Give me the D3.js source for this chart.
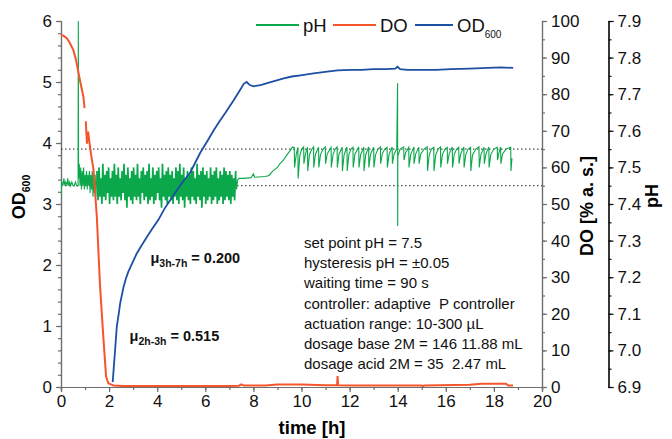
<!DOCTYPE html>
<html><head><meta charset="utf-8">
<script src="https://cdn.jsdelivr.net/npm/d3@7/dist/d3.min.js"></script>
<style>
html,body{margin:0;padding:0;background:#fff;}
svg{display:block;font-family:"Liberation Sans",Arial,sans-serif;}
text{white-space:pre;}
</style></head>
<body><svg id="c" width="672" height="439"></svg>
<script>
// ---------------- DATA ----------------
const xTicks = [0,2,4,6,8,10,12,14,16,18,20];
const odTicks = [0,1,2,3,4,5,6];
const doTicks = [0,10,20,30,40,50,60,70,80,90,100];
const phTicks = [6.9,7.0,7.1,7.2,7.3,7.4,7.5,7.6,7.7,7.8,7.9];
const hysteresis = [7.45, 7.55];

// OD600 [time h, OD]
const odData = [[2.15,0.08],[2.2,0.35],[2.25,0.61],[2.32,0.99],[2.4,1.2],[2.46,1.37],[2.6,1.64],[2.7,1.78],[2.8,1.89],[2.95,2.02],[3.15,2.19],[3.35,2.32],[3.57,2.46],[3.8,2.6],[4.05,2.74],[4.3,2.92],[4.6,3.1],[5.0,3.33],[5.38,3.52],[5.79,3.84],[6.1,4.04],[6.35,4.21],[6.6,4.36],[6.83,4.49],[7.18,4.70],[7.4,4.84],[7.6,4.97],[7.72,5.0],[7.85,4.95],[8.01,4.93],[8.3,4.95],[8.57,4.98],[8.9,5.02],[9.26,5.06],[9.6,5.09],[9.96,5.11],[10.5,5.14],[11.07,5.17],[11.5,5.19],[12.04,5.2],[12.5,5.2],[13.0,5.21],[13.5,5.21],[13.9,5.22],[13.99,5.25],[14.1,5.21],[14.4,5.2],[15.0,5.2],[15.6,5.2],[16.2,5.21],[17.0,5.22],[17.74,5.23],[18.3,5.24],[18.8,5.23]];

// DO [time h, % a.s.]  (null = gap in trace)
const doData = [[0,96.2],[0.1,96.0],[0.24,95.3],[0.35,94.2],[0.51,92.1],[0.62,89.5],[0.72,86.1],[0.82,82.8],[0.93,79.3],[0.98,76.2],[1.0,null],[1.03,72.6],[1.08,66.5],[1.13,69.8],[1.17,67.5],[1.25,63.5],[1.35,59.5],[1.49,46.5],[1.625,27.4],[1.76,13.7],[1.875,2.8],[1.97,1.0],[2.18,0.4],[2.6,0.25],[3.5,0.3],[5,0.3],[7.0,0.3],[7.4,0.35],[7.5,0.7],[7.6,0.4],[8.5,0.4],[9.0,0.7],[10.0,0.7],[11.0,0.5],[11.48,0.5],[11.5,3.0],[11.52,0.5],[12.0,0.4],[15.0,0.4],[15.05,0.1],[15.1,0.4],[17.0,0.6],[17.5,0.9],[18.5,0.9],[18.6,0.4],[18.8,0.4]];

// pH [time h, pH] before the dense control band
const phStart = [[0,7.42],[0.03,7.46],[0.08,7.45],[0.12,7.47],[0.16,7.45],[0.2,7.46],[0.25,7.45],[0.28,7.47],[0.32,7.45],[0.36,7.46],[0.4,7.45],[0.45,7.46],[0.5,7.45],[0.55,7.45],[0.6,7.46],[0.65,7.45],[0.71,7.45],[0.72,7.9],[0.73,7.47],[0.76,7.51],[0.79,7.45],[0.82,7.50],[0.85,7.44],[0.88,7.49],[0.91,7.45],[0.94,7.50],[0.97,7.44],[1.0,7.48],[1.03,7.45],[1.06,7.49],[1.09,7.44],[1.12,7.48],[1.15,7.45],[1.18,7.49],[1.21,7.43],[1.24,7.48],[1.27,7.44],[1.30,7.49],[1.33,7.42],[1.36,7.47],[1.39,7.43],[1.42,7.48],[1.45,7.42],[1.5,7.49]];
// pH dense band, sampled every phDenseStep hours from phDenseT0
const phDenseT0 = 1.5, phDenseStep = 0.04;
const phDense = [7.49,7.41,7.50,7.42,7.47,7.40,7.51,7.42,7.48,7.41,7.49,7.43,7.50,7.40,7.47,7.42,7.49,7.41,7.51,7.42,
7.48,7.40,7.50,7.42,7.47,7.41,7.49,7.43,7.51,7.41,7.48,7.39,7.50,7.42,7.47,7.41,7.49,7.40,7.50,7.42,
7.48,7.41,7.51,7.42,7.47,7.40,7.49,7.43,7.50,7.41,7.48,7.42,7.49,7.40,7.51,7.41,7.47,7.42,7.50,7.40,
7.48,7.41,7.49,7.43,7.50,7.41,7.47,7.39,7.51,7.42,7.48,7.41,7.49,7.40,7.50,7.42,7.48,7.41,7.49,7.40,
7.47,7.42,7.50,7.41,7.49,7.40,7.51,7.42,7.48,7.41,7.50,7.39,7.47,7.42,7.49,7.41,7.48,7.40,7.50,7.42,
7.49,7.41,7.47,7.40,7.51,7.42,7.48,7.41,7.49,7.39,7.50,7.42,7.48,7.40,7.49,7.41,7.47,7.42,7.50,7.40,
7.48,7.41,7.49,7.42,7.50,7.40,7.47,7.41,7.49,7.42,7.48,7.40,7.50,7.41,7.49,7.42,7.48,7.41,7.49,7.40,
7.48,7.42,7.47,7.41,7.49];
// pH after the dense band [time h, pH]
const phEnd = [[7.26,7.49],[7.30,7.44],[7.34,7.465],[7.40,7.47],[7.6,7.47],[7.9,7.472],[8.0,7.482],[8.05,7.473],[8.5,7.475],[8.65,7.478],[8.8,7.49],[9.0,7.50],[9.1,7.51],[9.25,7.52],[9.4,7.535],
[9.55,7.548],[9.62,7.556],
[9.70,7.554],[9.71,7.50],[9.78,7.535],
[9.85,7.555],[9.86,7.47],[9.93,7.532],[10.0,7.548],
[10.09,7.556],[10.10,7.51],[10.17,7.538],
[10.25,7.555],[10.26,7.49],[10.33,7.534],[10.42,7.549],
[10.50,7.556],[10.51,7.50],[10.58,7.536],
[10.71,7.555],[10.72,7.50],[10.79,7.535],[10.9,7.55],
[10.99,7.556],[11.00,7.51],[11.07,7.537],
[11.23,7.555],[11.24,7.50],[11.31,7.535],[11.4,7.55],
[11.48,7.556],[11.49,7.50],[11.56,7.536],
[11.69,7.555],[11.70,7.49],[11.77,7.534],
[11.89,7.556],[11.90,7.49],[11.97,7.535],[12.06,7.55],
[12.14,7.555],[12.15,7.50],[12.22,7.536],
[12.38,7.556],[12.39,7.50],[12.46,7.535],
[12.59,7.555],[12.60,7.49],[12.67,7.534],
[12.79,7.556],[12.80,7.50],[12.87,7.536],
[13.00,7.555],[13.01,7.50],[13.08,7.535],[13.18,7.55],
[13.28,7.556],[13.29,7.51],[13.36,7.537],[13.46,7.55],
[13.56,7.555],[13.57,7.50],[13.64,7.535],
[13.77,7.556],[13.78,7.51],[13.85,7.537],[13.96,7.55],
[13.995,7.73],[14.0,7.34],[14.005,7.53],[14.1,7.55],
[14.25,7.556],[14.26,7.52],[14.33,7.54],
[14.46,7.555],[14.47,7.50],[14.54,7.535],
[14.67,7.556],[14.68,7.51],[14.75,7.537],
[14.88,7.555],[14.89,7.51],[14.96,7.537],[15.1,7.55],
[15.23,7.556],[15.24,7.49],[15.31,7.534],[15.4,7.55],
[15.50,7.555],[15.51,7.49],[15.58,7.534],[15.68,7.55],
[15.78,7.556],[15.79,7.50],[15.86,7.535],[15.96,7.55],
[16.06,7.555],[16.07,7.51],[16.14,7.537],
[16.27,7.556],[16.28,7.50],[16.35,7.535],[16.45,7.55],
[16.54,7.555],[16.55,7.51],[16.62,7.537],
[16.75,7.556],[16.76,7.50],[16.83,7.535],[16.93,7.55],
[17.03,7.555],[17.04,7.49],[17.11,7.534],[17.25,7.55],
[17.38,7.556],[17.39,7.50],[17.46,7.535],
[17.59,7.555],[17.60,7.51],[17.67,7.537],
[17.79,7.556],[17.80,7.50],[17.87,7.535],[18.0,7.55],
[18.14,7.555],[18.15,7.52],[18.21,7.54],
[18.28,7.556],[18.29,7.51],[18.36,7.537],[18.5,7.55],
[18.70,7.555],[18.71,7.49],[18.75,7.525]];

const infoLines = ["set point pH = 7.5","hysteresis pH = \u00b10.05","waiting time = 90 s","controller: adaptive  P controller","actuation range: 10-300 \u00b5L","dosage base 2M = 146 11.88 mL","dosage acid 2M = 35  2.47 mL"];
const muLabels = [{sub:"3h-7h", val:"0.200", t:3.72, od:2.03},{sub:"2h-3h", val:"0.515", t:2.85, od:0.76}];
const legendItems = [{name:"pH", sub:"", key:"ph"},{name:"DO", sub:"", key:"do"},{name:"OD", sub:"600", key:"od"}];

// ---------------- STYLES ----------------
const colors = {ph:"#0aa84a", do:"#f4552b", od:"#1d4fa3"};
const axisGray = "#6e6e6e";

// ---------------- CHART ----------------
const svg = d3.select("#c");
const L=61, R=542, T=21, B=387;
const x = d3.scaleLinear([0,20],[L,R]);
const yOD = d3.scaleLinear([0,6],[B,T]);
const yDO = d3.scaleLinear([0,100],[B,T]);
const yPH = d3.scaleLinear([6.9,7.9],[B,T]);

function styleAxis(g, col){
  g.select(".domain").attr("stroke",col).attr("stroke-width",1.2);
  g.selectAll(".tick line").attr("stroke",col).attr("stroke-width",1.2);
  g.selectAll(".tick text").attr("fill","#111").attr("font-size",17);
}

// minor ticks
const minorOD = d3.range(0,6.001,0.2).map(v=>+v.toFixed(1));
svg.append("g").attr("transform",`translate(${L},0)`).call(d3.axisLeft(yOD).tickValues(minorOD).tickSize(3).tickFormat("")).call(g=>styleAxis(g,axisGray));
svg.append("g").attr("transform",`translate(0,${B})`).call(d3.axisBottom(x).tickValues(d3.range(0,21,1)).tickSize(3).tickFormat("")).call(g=>styleAxis(g,axisGray));
svg.append("g").attr("transform",`translate(${R},0)`).call(d3.axisRight(yDO).tickValues(d3.range(0,101,5)).tickSize(3).tickFormat("")).call(g=>styleAxis(g,axisGray));
svg.append("g").attr("transform",`translate(608.5,0)`).call(d3.axisRight(yPH).tickValues(d3.range(0,21).map(i=>6.9+i*0.05)).tickSize(3).tickFormat("")).call(g=>styleAxis(g,"#111"));

// major axes
svg.append("g").attr("transform",`translate(${L},0)`).call(d3.axisLeft(yOD).tickValues(odTicks).tickSize(5).tickPadding(4).tickFormat(d3.format("d"))).call(g=>styleAxis(g,axisGray));
svg.append("g").attr("transform",`translate(0,${B})`).call(d3.axisBottom(x).tickValues(xTicks).tickSize(5).tickPadding(3).tickFormat(d3.format("d"))).call(g=>styleAxis(g,axisGray));
svg.append("g").attr("transform",`translate(${R},0)`).call(d3.axisRight(yDO).tickValues(doTicks).tickSize(5).tickPadding(4).tickFormat(d3.format("d"))).call(g=>styleAxis(g,axisGray));
svg.append("g").attr("transform",`translate(608.5,0)`).call(d3.axisRight(yPH).tickValues(phTicks).tickSize(5).tickPadding(4).tickFormat(d3.format(".1f"))).call(g=>styleAxis(g,"#111"));

// hysteresis lines
svg.selectAll("line.hyst").data(hysteresis).join("line").attr("class","hyst")
  .attr("x1",L).attr("x2",R).attr("y1",d=>yPH(d)).attr("y2",d=>yPH(d))
  .attr("stroke","#222").attr("stroke-width",1).attr("stroke-dasharray","1.5,2.5");

// series
const phDenseData = phDense.map((v,i)=>[phDenseT0+i*phDenseStep, v]);
svg.append("clipPath").attr("id","clip").append("rect").attr("x",L).attr("y",T-2).attr("width",R-L).attr("height",B-T+2);
const plot = svg.append("g").attr("clip-path","url(#clip)");
const phLine = d3.line().x(d=>x(d[0])).y(d=>yPH(d[1]));

plot.append("path").datum(phStart).attr("fill","none").attr("stroke",colors.ph).attr("stroke-width",1.1).attr("d", phLine);
plot.append("path").datum(phDenseData).attr("fill","none").attr("stroke",colors.ph).attr("stroke-width",1.7).attr("d", phLine);
plot.append("path").datum(phEnd).attr("fill","none").attr("stroke",colors.ph).attr("stroke-width",1.1).attr("d", phLine);
plot.append("path").datum(doData).attr("fill","none").attr("stroke",colors.do).attr("stroke-width",2)
  .attr("d", d3.line().defined(d=>d[1]!==null).x(d=>x(d[0])).y(d=>yDO(d[1])));
plot.append("path").datum(odData).attr("fill","none").attr("stroke",colors.od).attr("stroke-width",1.8)
  .attr("d", d3.line().x(d=>x(d[0])).y(d=>yOD(d[1])));

// legend
const legX = [256, 333, 415];
legendItems.forEach((it,i)=>{
  const g = svg.append("g").attr("transform",`translate(${legX[i]},25)`);
  g.append("line").attr("x1",0).attr("x2",i==2?38:43).attr("y1",0).attr("y2",0).attr("stroke",colors[it.key]).attr("stroke-width",2);
  const t = g.append("text").attr("x",i==2?42:47).attr("y",6.5).attr("font-size",18.5).attr("fill","#111").text(it.name);
  if(it.sub) t.append("tspan").attr("font-size",10).attr("dy",6).text(it.sub);
});

// mu labels
muLabels.forEach(m=>{
  const t = svg.append("text").attr("x",x(m.t)).attr("y",yOD(m.od)).attr("font-size",14.5).attr("font-weight","bold").attr("fill","#111");
  t.append("tspan").text("\u03bc");
  t.append("tspan").attr("font-size",10.5).attr("dy",4).text(m.sub);
  t.append("tspan").attr("dy",-4).text(" = "+m.val);
});

// info block
svg.append("g").selectAll("text").data(infoLines).join("text")
  .attr("x",304).attr("y",(d,i)=>248+i*20.2).attr("font-size",15).attr("fill","#111").text(d=>d);

// axis titles
svg.append("text").attr("transform","translate(25,197) rotate(-90)").attr("text-anchor","middle")
  .attr("font-size",18).attr("font-weight","bold").call(t=>{t.append("tspan").text("OD");t.append("tspan").attr("font-size",10.5).attr("dy",5).text("600");});
svg.append("text").attr("transform","translate(593,206) rotate(-90)").attr("text-anchor","middle")
  .attr("font-size",18).attr("font-weight","bold").text("DO [% a. s.]");
svg.append("text").attr("transform","translate(658,196) rotate(-90)").attr("text-anchor","middle")
  .attr("font-size",18).attr("font-weight","bold").text("pH");
svg.append("text").attr("x",312).attr("y",434).attr("text-anchor","middle")
  .attr("font-size",18.5).attr("font-weight","bold").text("time [h]");
</script></body></html>
